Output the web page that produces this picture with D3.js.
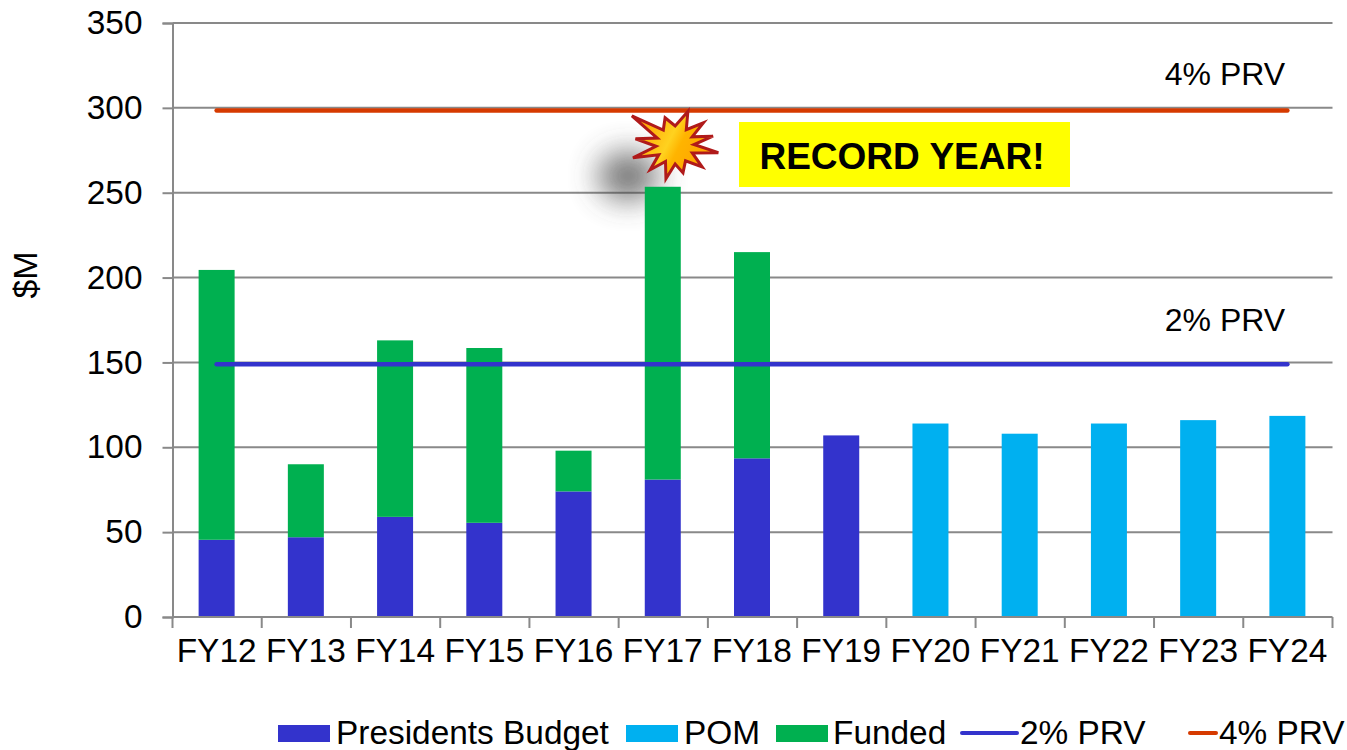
<!DOCTYPE html>
<html>
<head>
<meta charset="utf-8">
<script src="https://cdn.jsdelivr.net/npm/d3@7"></script>
<style>
html, body { margin: 0; padding: 0; background: #fff; overflow: hidden; }
text { font-family: "Liberation Sans", Arial, sans-serif; fill: #000; }
</style>
</head>
<body>
<div id="chart"></div>
<script>
var categories = ["FY12","FY13","FY14","FY15","FY16","FY17","FY18","FY19","FY20","FY21","FY22","FY23","FY24"];
var presidentsBudget = [45.5, 47, 59, 55.5, 74, 81, 93.5, 107, 0, 0, 0, 0, 0];
var pom = [0, 0, 0, 0, 0, 0, 0, 0, 114, 108, 114, 116, 118.5];
var funded = [159, 43, 104, 103, 24, 172.5, 121.5, 0, 0, 0, 0, 0, 0];
var prv2 = [149, 149, 149, 149, 149, 149, 149, 149, 149, 149, 149, 149, 149];
var prv4 = [298.5, 298.5, 298.5, 298.5, 298.5, 298.5, 298.5, 298.5, 298.5, 298.5, 298.5, 298.5, 298.5];
var yTicks = [0, 50, 100, 150, 200, 250, 300, 350];
// tips of the burst, degrees clockwise from the top
var burstAngles = [-20, 21, 52, 77, 100, 129, 164, 195, 225, 253, 279, 304];
var burstRadii = [29, 36, 36, 39, 44, 35, 29, 35, 35, 44, 40, 52];

var width = 1347, height = 750;
var plotLeft = 172, plotRight = 1332, plotTop = 23, plotBottom = 617;
var fontSize = 33.4;

var blue = "#3333cc", cyan = "#00b0f0", green = "#00b050", red = "#d63a00", grid = "#898989";

var svg = d3.select("#chart")
    .append("svg")
    .attr("width", width)
    .attr("height", height);

var defs = svg.append("defs");
defs.append("filter").attr("id", "blur")
    .attr("x", "-150%").attr("y", "-150%").attr("width", "400%").attr("height", "400%")
    .append("feGaussianBlur").attr("stdDeviation", 15);

var x = d3.scaleBand()
    .domain(categories)
    .range([plotLeft, plotRight]);

var y = d3.scaleLinear()
    .domain([0, 350])
    .range([plotBottom, plotTop]);

var barWidth = 36;
var barX = function(d) { return x(d) + (x.bandwidth() - barWidth) / 2; };

// gridlines + left ticks
var yAxis = d3.axisLeft(y)
    .tickValues(yTicks)
    .tickSize(10)
    .tickPadding(20);

var gy = svg.append("g")
    .attr("transform", "translate(" + (plotLeft + 0.5) + ",0)");
gy.call(yAxis);
gy.append("g").selectAll("line")
    .data(yTicks)
    .enter()
    .append("line")
    .attr("x1", 0)
    .attr("x2", plotRight - plotLeft)
    .attr("y1", function(d) { return y(d); })
    .attr("y2", function(d) { return y(d); })
    .attr("stroke", grid)
    .attr("stroke-width", 2);
gy.select(".domain").attr("stroke", grid).attr("stroke-width", 2);
gy.selectAll(".tick line").attr("stroke", grid).attr("stroke-width", 2);
gy.selectAll(".tick text").style("font-size", fontSize + "px").attr("font-family", null).attr("fill", "#000");

// shadow behind the burst
svg.append("ellipse")
    .attr("cx", 628).attr("cy", 176)
    .attr("rx", 30).attr("ry", 24)
    .attr("fill", "#444")
    .attr("opacity", 0.75)
    .attr("filter", "url(#blur)");

// stacked bars
var stack = d3.stack().keys(["pb", "pom", "funded"]);
var rows = categories.map(function(c, i) {
    return { cat: c, pb: presidentsBudget[i], pom: pom[i], funded: funded[i] };
});
var colors = { pb: blue, pom: cyan, funded: green };

svg.selectAll(".layer")
    .data(stack(rows))
    .enter()
    .append("g")
    .attr("class", "layer")
    .attr("fill", function(d) { return colors[d.key]; })
    .selectAll("rect")
    .data(function(d) { return d; })
    .enter()
    .append("rect")
    .attr("x", function(d) { return barX(d.data.cat); })
    .attr("width", barWidth)
    .attr("y", function(d) { return y(d[1]); })
    .attr("height", function(d) { return y(d[0]) - y(d[1]); });

// x axis
var xAxis = d3.axisBottom(x).tickSize(0).tickPadding(21);
var gx = svg.append("g")
    .attr("transform", "translate(0," + plotBottom + ")")
    .call(xAxis);
gx.select(".domain").remove();
gx.selectAll(".tick text").style("font-size", fontSize + "px").attr("font-family", null).attr("fill", "#000");
gx.selectAll(".sep")
    .data(d3.range(categories.length + 1))
    .enter()
    .append("line")
    .attr("x1", function(d) { return plotLeft + 0.5 + d * x.step(); })
    .attr("x2", function(d) { return plotLeft + 0.5 + d * x.step(); })
    .attr("y1", 0)
    .attr("y2", 11)
    .attr("stroke", grid)
    .attr("stroke-width", 2);
gx.append("line")
    .attr("x1", plotLeft).attr("x2", plotRight)
    .attr("stroke", grid).attr("stroke-width", 2);

// PRV lines
var line = d3.line()
    .x(function(d) { return x(d.cat) + x.bandwidth() / 2; })
    .y(function(d) { return y(d.v); });

[[prv2, blue], [prv4, red]].forEach(function(s) {
    svg.append("path")
        .datum(categories.map(function(c, i) { return { cat: c, v: s[0][i] }; }))
        .attr("fill", "none")
        .attr("stroke", s[1])
        .attr("stroke-width", 4.5)
        .attr("stroke-linecap", "round")
        .attr("d", line);
});

svg.append("text").attr("x", 1225).attr("y", 85).attr("text-anchor", "middle")
    .style("font-size", "32px").text("4% PRV");
svg.append("text").attr("x", 1225).attr("y", 331).attr("text-anchor", "middle")
    .style("font-size", "32px").text("2% PRV");

// record year callout
svg.append("rect")
    .attr("x", 739).attr("y", 122).attr("width", 331).attr("height", 65)
    .attr("fill", "#ffff00");
svg.append("text")
    .attr("x", 902).attr("y", 169).attr("text-anchor", "middle")
    .style("font-size", "37px").style("font-weight", "bold")
    .text("RECORD YEAR!");

// burst
var burstGrad = defs.append("linearGradient").attr("id", "burstFill")
    .attr("x1", 0).attr("x2", 1).attr("y1", 0.3).attr("y2", 0.7);
burstGrad.append("stop").attr("offset", "0%").attr("stop-color", "#ff9f00");
burstGrad.append("stop").attr("offset", "42%").attr("stop-color", "#ffd21f");
burstGrad.append("stop").attr("offset", "55%").attr("stop-color", "#ffb400");
burstGrad.append("stop").attr("offset", "100%").attr("stop-color", "#ff9f00");

var burstPoints = [];
burstAngles.forEach(function(a, i) {
    var next = burstAngles[(i + 1) % burstAngles.length];
    if (next < a) next += 360;
    burstPoints.push({ a: a, r: burstRadii[i] });
    burstPoints.push({ a: (a + next) / 2, r: 19 });
});

var burstLine = d3.lineRadial()
    .angle(function(d) { return d.a * Math.PI / 180; })
    .radius(function(d) { return d.r; })
    .curve(d3.curveLinearClosed);

svg.append("path")
    .attr("transform", "translate(675,145)")
    .attr("d", burstLine(burstPoints))
    .attr("fill", "url(#burstFill)")
    .attr("stroke", "#b01a1a")
    .attr("stroke-width", 3)
    .attr("stroke-linejoin", "miter");

// legend
var legend = svg.append("g").attr("transform", "translate(0,733)");
var legendBars = [
    { label: "Presidents Budget", color: blue, x: 278, tx: 336 },
    { label: "POM", color: cyan, x: 626, tx: 684 },
    { label: "Funded", color: green, x: 776, tx: 833 }
];
var legendLines = [
    { label: "2% PRV", color: blue, x: 962, tx: 1020 },
    { label: "4% PRV", color: red, x: 1190, tx: 1219 }
];
legend.selectAll(".lb").data(legendBars).enter().append("rect")
    .attr("x", function(d) { return d.x; })
    .attr("y", -8).attr("width", 52).attr("height", 17)
    .attr("fill", function(d) { return d.color; });
legend.selectAll(".ll").data(legendLines).enter().append("line")
    .attr("x1", function(d) { return d.x; })
    .attr("x2", function(d) { return d.tx - 3; })
    .attr("stroke", function(d) { return d.color; })
    .attr("stroke-width", 4)
    .attr("stroke-linecap", "round");
legend.selectAll(".lt").data(legendBars.concat(legendLines)).enter().append("text")
    .attr("x", function(d) { return d.tx; })
    .attr("y", 11)
    .style("font-size", "33.4px")
    .text(function(d) { return d.label; });

// y title
svg.append("text")
    .attr("transform", "translate(37,275) rotate(-90)")
    .attr("text-anchor", "middle")
    .style("font-size", "34px")
    .text("$M");
</script>
</body>
</html>
